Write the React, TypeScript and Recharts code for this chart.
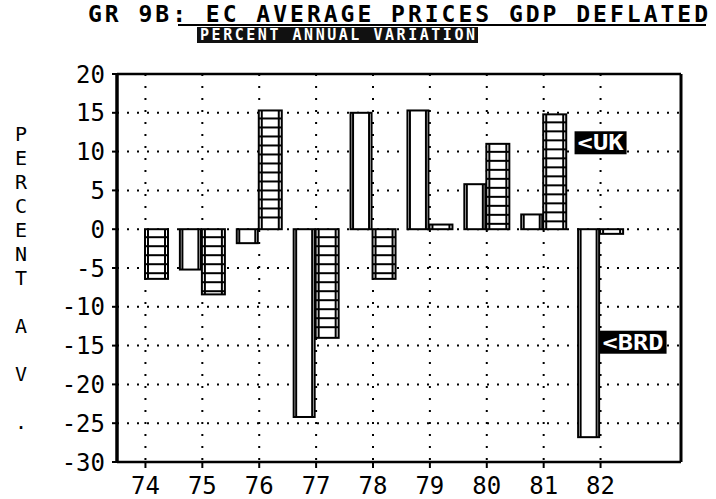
import React from 'react';
import { BarChart, Bar, XAxis, YAxis, CartesianGrid, ReferenceLine, ReferenceDot } from 'recharts';

const years = ['74', '75', '76', '77', '78', '79', '80', '81', '82'];
const brdValues: (number | null)[] = [null, -5.2, -1.8, -24.2, 15.0, 15.3, 5.8, 1.9, -26.8];
const ukValues: (number | null)[] = [-6.4, -8.4, 15.3, -14.0, -6.4, 0.6, 11.0, 14.8, -0.6];
const yTicks = [20, 15, 10, 5, 0, -5, -10, -15, -20, -25, -30];
const titleText = 'GR 9B: EC AVERAGE PRICES GDP DEFLATED';
const subtitleText = 'PERCENT ANNUAL VARIATION';
const yLabelLetters = ['P', 'E', 'R', 'C', 'E', 'N', 'T', '', 'A', '', 'V', '', '.'];
const ukLabel = '<UK';
const brdLabel = '<BRD';
const ukLabelValue = 11.2;
const brdLabelValue = -14.5;
const labelYear = '82';

const data = years.map((year, i) => ({ year, brd: brdValues[i], uk: ukValues[i] }));

const FONT = 'DejaVu Sans Mono';

const LadderBar = (props: any) => {
  const { x, y, width, height } = props;
  if (x == null || y == null || !width || !height) return <g />;
  const top = Math.min(y, y + height);
  const h = Math.abs(height);
  const rungs: React.ReactElement[] = [];
  for (let yy = top + 8; yy < top + h - 3; yy += 9) {
    rungs.push(<line key={yy} x1={x} x2={x + width} y1={yy} y2={yy} stroke="#000" strokeWidth={2} />);
  }
  return (
    <g>
      <rect x={x} y={top} width={width} height={h} fill="#fff" stroke="#000" strokeWidth={2} />
      <line x1={x + 3} x2={x + 3} y1={top} y2={top + h} stroke="#000" strokeWidth={2} />
      <line x1={x + width - 3} x2={x + width - 3} y1={top} y2={top + h} stroke="#000" strokeWidth={2} />
      {rungs}
    </g>
  );
};

const PlainBar = (props: any) => {
  const { x, y, width, height } = props;
  if (x == null || y == null || !width || !height) return <g />;
  const top = Math.min(y, y + height);
  const h = Math.abs(height);
  return (
    <g>
      <rect x={x + 1} y={top} width={width - 2} height={h} fill="#fff" stroke="#000" strokeWidth={2} />
      <line x1={x + 3.5} x2={x + 3.5} y1={top} y2={top + h} stroke="#000" strokeWidth={2} />
      <line x1={x + width - 3.5} x2={x + width - 3.5} y1={top} y2={top + h} stroke="#000" strokeWidth={2} />
    </g>
  );
};

const makeLabelShape = (text: string, offset: number, w: number) => (props: any) => {
  const { cx, cy } = props;
  if (cx == null || cy == null) return <g />;
  const left = cx + offset;
  return (
    <g>
      <rect x={left} y={cy - 11} width={w} height={23} fill="#000" />
      <text
        x={left + w / 2}
        y={cy + 8}
        textAnchor="middle"
        fill="#fff"
        fontFamily={FONT}
        fontWeight="bold"
        fontSize={21}
        textLength={w - 6}
        lengthAdjust="spacingAndGlyphs"
      >
        {text}
      </text>
    </g>
  );
};

export default function App() {
  return (
    <div style={{ position: 'absolute', left: 0, top: 0, width: 716, height: 499, background: '#fff' }}>
      <BarChart
        width={716}
        height={499}
        data={data}
        margin={{ top: 74, right: 35, left: 57, bottom: 7 }}
        barCategoryGap={5}
        barGap={0}
      >
        <CartesianGrid horizontal={false} stroke="#000" strokeWidth={2} strokeDasharray="2 10" />
        <CartesianGrid vertical={false} stroke="#000" strokeWidth={2} strokeDasharray="2 8" />
        <XAxis
          dataKey="year"
          padding={{ left: 0, right: 52 }}
          height={30}
          tickSize={6}
          tickMargin={9}
          axisLine={{ stroke: '#000', strokeWidth: 2.5 }}
          tickLine={{ stroke: '#000', strokeWidth: 2 }}
          tick={{ fill: '#000', fontSize: 24, fontFamily: FONT }}
          interval={0}
        />
        <YAxis
          width={60}
          domain={[-30, 20]}
          ticks={yTicks}
          interval={0}
          tickSize={5}
          tickMargin={7}
          axisLine={{ stroke: '#000', strokeWidth: 3.5 }}
          tickLine={{ stroke: '#000', strokeWidth: 2 }}
          tick={{ fill: '#000', fontSize: 24, fontFamily: FONT }}
          allowDataOverflow
        />
        <YAxis
          yAxisId="r"
          orientation="right"
          mirror
          domain={[-30, 20]}
          ticks={yTicks}
          interval={0}
          tickSize={6}
          tick={false}
          axisLine={{ stroke: '#000', strokeWidth: 3 }}
          tickLine={{ stroke: '#000', strokeWidth: 2 }}
        />
        <ReferenceLine y={20} stroke="#000" strokeWidth={2.5} />
        <Bar dataKey="brd" shape={PlainBar} isAnimationActive={false} />
        <Bar dataKey="uk" shape={LadderBar} isAnimationActive={false} />
        <ReferenceDot x={labelYear} y={ukLabelValue} r={0} shape={makeLabelShape(ukLabel, -26, 52)} />
        <ReferenceDot x={labelYear} y={brdLabelValue} r={0} shape={makeLabelShape(brdLabel, -1, 67)} />
      </BarChart>
      <svg
        width={716}
        height={499}
        style={{ position: 'absolute', left: 0, top: 0, pointerEvents: 'none' }}
      >
        <text
          x={88}
          y={22}
          fontFamily={FONT}
          fontWeight="bold"
          fontSize={23}
          fill="#000"
          textLength={620}
          lengthAdjust="spacing"
        >
          {titleText}
        </text>
        <line x1={178} x2={706} y1={25} y2={25} stroke="#000" strokeWidth={2} />
        <rect x={197} y={27} width={281} height={16} fill="#111" />
        <text
          x={200}
          y={40}
          fontFamily={FONT}
          fontWeight="bold"
          fontSize={15}
          fill="#fff"
          textLength={275}
          lengthAdjust="spacing"
        >
          {subtitleText}
        </text>
        {yLabelLetters.map((ch, i) => (
          <text
            key={i}
            x={21}
            y={141 + i * 24}
            textAnchor="middle"
            fontFamily={FONT}
            fontSize={20}
            fill="#000"
          >
            {ch}
          </text>
        ))}
      </svg>
    </div>
  );
}
